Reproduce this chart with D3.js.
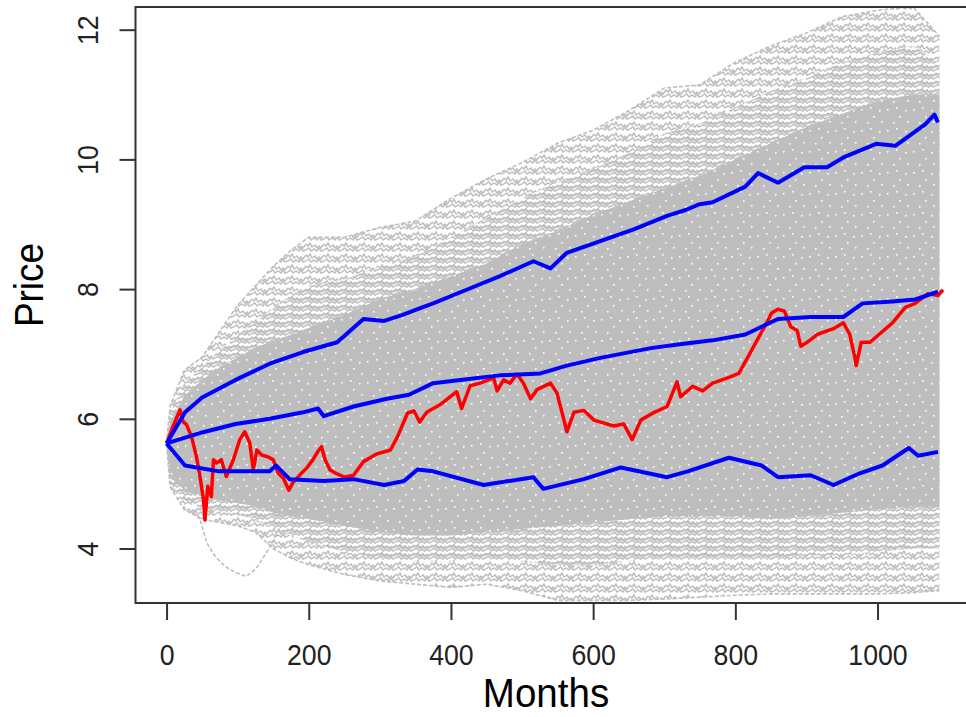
<!DOCTYPE html>
<html>
<head>
<meta charset="utf-8">
<style>
    body { margin: 0; background: #fff; }
    svg { display: block; font-family: "Liberation Sans", Arial, sans-serif; }
    .axis line { stroke: #333; stroke-width: 2; }
    .axis text { fill: #222; font-size: 29px; }
</style>
</head>
<body>
<script src="https://cdn.jsdelivr.net/npm/d3@7"></script>
<script>

    // month grid used for the gray cloud of simulated paths
    var envMonths = [0, 5, 25, 50, 75, 100, 125, 150, 175, 200, 250, 300, 350, 400, 450, 500,
                     550, 600, 650, 700, 750, 800, 850, 900, 950, 1000, 1050, 1087];
    // outermost simulated paths (top / bottom of the gray cloud)
    var outerHigh = [5.62, 6.2, 6.75, 6.95, 7.35, 7.75, 8.05, 8.35, 8.6, 8.8, 8.8, 8.95, 9.05, 9.4, 9.7, 9.95,
                     10.25, 10.45, 10.75, 11.1, 11.15, 11.5, 11.75, 11.95, 12.2, 12.3, 12.35, 11.9];
    var outerLow  = [5.6, 4.95, 4.6, 4.45, 4.4, 4.35, 4.25, 4.0, 3.85, 3.75, 3.6, 3.5, 3.45, 3.4, 3.45, 3.35,
                     3.2, 3.2, 3.2, 3.22, 3.25, 3.28, 3.3, 3.3, 3.3, 3.3, 3.32, 3.35];
    // half-dense zone
    var midHigh   = [5.62, 6.1, 6.55, 6.8, 7.05, 7.3, 7.5, 7.7, 7.9, 8.05, 8.15, 8.35, 8.5, 8.8, 9.1, 9.4,
                     9.65, 9.85, 10.1, 10.4, 10.55, 10.8, 11.05, 11.25, 11.5, 11.65, 11.75, 11.5];
    var midLow    = [5.6, 5.0, 4.75, 4.62, 4.58, 4.52, 4.45, 4.3, 4.2, 4.1, 3.95, 3.85, 3.8, 3.8, 3.85, 3.8,
                     3.75, 3.75, 3.8, 3.85, 3.85, 3.85, 3.85, 3.9, 3.9, 3.95, 4.0, 4.0];
    // dense part of the cloud
    var coreHigh  = [5.62, 5.95, 6.35, 6.6, 6.8, 6.95, 7.1, 7.2, 7.3, 7.4, 7.6, 7.85, 8.0, 8.2, 8.4, 8.7,
                     8.9, 9.15, 9.35, 9.55, 9.75, 10.0, 10.25, 10.5, 10.7, 10.9, 11.0, 11.0];
    var coreLow   = [5.6, 5.1, 4.9, 4.8, 4.75, 4.7, 4.65, 4.55, 4.5, 4.45, 4.35, 4.25, 4.2, 4.2, 4.25, 4.3,
                     4.35, 4.4, 4.45, 4.5, 4.5, 4.5, 4.45, 4.5, 4.55, 4.6, 4.65, 4.65];

    // one stray path that drops below the cloud early on
    var strayMonths = [40, 47, 57, 69, 83, 97, 112, 126, 140, 150, 160];
    var strayValues = [4.6, 4.45, 4.08, 3.87, 3.72, 3.63, 3.57, 3.69, 3.93, 4.11, 4.35];

    // blue bands
    var upperMonths = [0, 26, 50, 97, 145, 192, 240, 277, 306, 331, 353, 375, 422, 469, 516, 540, 563, 610,
                       657, 704, 730, 750, 768, 814, 832, 860, 897, 929, 952, 998, 1025, 1044, 1067, 1080, 1085];
    var upperValues = [5.62, 6.10, 6.33, 6.60, 6.85, 7.03, 7.18, 7.54, 7.51, 7.60, 7.69, 7.78, 7.99, 8.20, 8.43,
                       8.32, 8.56, 8.74, 8.92, 9.13, 9.22, 9.31, 9.34, 9.58, 9.79, 9.64, 9.88, 9.88, 10.03,
                       10.24, 10.21, 10.36, 10.54, 10.69, 10.57];

    var midMonths = [0, 50, 97, 145, 192, 213, 221, 263, 310, 341, 375, 422, 469, 526, 563, 610, 681, 722,
                     768, 814, 860, 906, 952, 979, 1021, 1053, 1085];
    var midValues = [5.62, 5.79, 5.92, 6.00, 6.10, 6.16, 6.04, 6.19, 6.31, 6.37, 6.55, 6.61, 6.67, 6.70, 6.82,
                     6.94, 7.09, 7.15, 7.21, 7.30, 7.54, 7.57, 7.57, 7.78, 7.81, 7.84, 7.96];

    var lowerMonths = [0, 26, 74, 145, 154, 173, 221, 263, 306, 334, 353, 375, 446, 516, 530, 587, 639, 704,
                       733, 791, 837, 860, 906, 938, 975, 1007, 1044, 1057, 1085];
    var lowerValues = [5.62, 5.28, 5.19, 5.19, 5.28, 5.07, 5.04, 5.07, 4.98, 5.04, 5.22, 5.19, 4.98, 5.10,
                       4.92, 5.07, 5.25, 5.10, 5.19, 5.40, 5.28, 5.10, 5.13, 4.98, 5.16, 5.28, 5.55, 5.43, 5.49];

    // actual price path (red)
    var redMonths = [0, 9, 19, 23, 28, 35, 42, 47, 52, 54, 58, 63, 66, 70, 77, 84, 94, 103, 110, 117, 122,
                     127, 134, 141, 150, 157, 164, 172, 178, 188, 197, 206, 213, 218, 223, 230, 240, 250,
                     263, 277, 296, 315, 325, 339, 348, 356, 366, 385, 408, 415, 427, 441, 460, 465, 474,
                     483, 493, 502, 512, 521, 540, 549, 559, 563, 573, 587, 601, 629, 643, 655, 667, 686,
                     704, 718, 723, 740, 754, 768, 791, 805, 823, 841, 851, 860, 869, 878, 887, 892, 901,
                     915, 938, 952, 961, 968, 970, 977, 989, 1002, 1021, 1039, 1053, 1071, 1085, 1092];
    var redValues = [5.62, 5.88, 6.14, 5.96, 5.91, 5.73, 5.42, 5.11, 4.75, 4.44, 4.96, 4.80, 5.37, 5.32,
                     5.37, 5.11, 5.37, 5.68, 5.80, 5.63, 5.21, 5.52, 5.44, 5.42, 5.37, 5.16, 5.09, 4.90,
                     5.02, 5.14, 5.24, 5.37, 5.50, 5.57, 5.37, 5.21, 5.15, 5.10, 5.13, 5.34, 5.46, 5.52,
                     5.73, 6.09, 6.12, 5.95, 6.10, 6.22, 6.42, 6.16, 6.51, 6.55, 6.63, 6.43, 6.60, 6.55,
                     6.69, 6.55, 6.31, 6.45, 6.55, 6.40, 5.98, 5.80, 6.10, 6.13, 5.98, 5.89, 5.92, 5.68,
                     5.98, 6.10, 6.19, 6.57, 6.34, 6.50, 6.43, 6.55, 6.64, 6.70, 7.06, 7.42, 7.63, 7.69,
                     7.66, 7.42, 7.36, 7.12, 7.18, 7.30, 7.39, 7.48, 7.30, 6.95, 6.82, 7.18, 7.18, 7.30,
                     7.48, 7.72, 7.78, 7.93, 7.90, 7.99];

    var xTicks = [0, 200, 400, 600, 800, 1000];
    var yTicks = [4, 6, 8, 10, 12];

    var width = 966, height = 717;
    var plotLeft = 135.5, plotRight = 974, plotTop = 7, plotBottom = 603;

    var svg = d3.select("body").append("svg")
        .attr("width", width)
        .attr("height", height);

    var x = d3.scaleLinear().domain([-43.68, 1135.68]).range([plotLeft, plotRight]);
    var y = d3.scaleLinear().domain([3.16, 12.35]).range([plotBottom, plotTop]);

    var defs = svg.append("defs");

    defs.append("clipPath").attr("id", "plot")
        .append("rect")
        .attr("x", plotLeft).attr("y", plotTop)
        .attr("width", plotRight - plotLeft).attr("height", plotBottom - plotTop);

    // texture for the sparse part of the cloud: thin gray zigzags on white
    function zigzags(id, w, h, lines) {
        var p = defs.append("pattern")
            .attr("id", id)
            .attr("patternUnits", "userSpaceOnUse")
            .attr("width", w).attr("height", h);
        lines.forEach(function(d) {
            p.append("path")
                .attr("d", d)
                .attr("fill", "none")
                .attr("stroke", "#bebebe")
                .attr("stroke-width", 1.5);
        });
    }
    zigzags("fringe", 18, 11, ["M0,2 L2,4 L4,1 L6,5 L9,3 L11,6 L13,4 L15,6 L18,2",
                               "M0,8 L3,6 L5,9 L8,7 L11,9 L13,6 L15,9 L18,8"]);
    zigzags("half", 18, 8, ["M0,1 L2,3 L4,0.5 L6,3.5 L9,2 L11,4 L13,2.5 L15,4 L18,1",
                            "M0,5.5 L3,4.5 L5,7 L8,5.5 L11,7 L13,5 L15,7 L18,5.5",
                            "M0,3 L3,2 L6,4.5 L9,3.5 L12,5 L15,3 L18,3"]);

    // dense part: flat gray with a few white specks
    var core = defs.append("pattern")
        .attr("id", "core")
        .attr("patternUnits", "userSpaceOnUse")
        .attr("width", 26).attr("height", 21);
    core.append("rect").attr("width", 26).attr("height", 21).attr("fill", "#bebebe");
    [[3, 4], [15, 11], [9, 17], [21, 5], [23, 16], [12, 2]].forEach(function(p) {
        core.append("rect")
            .attr("x", p[0]).attr("y", p[1])
            .attr("width", 1.6).attr("height", 1.6)
            .attr("fill", "#fff");
    });

    var view = svg.append("g").attr("clip-path", "url(#plot)");

    function band(lo, hi) {
        return d3.area()
            .x(function(d, i) { return x(envMonths[i]); })
            .y0(function(d, i) { return y(lo[i]); })
            .y1(function(d, i) { return y(hi[i]); })(envMonths);
    }

    function path(ms, vs) {
        return d3.line()
            .x(function(d, i) { return x(ms[i]); })
            .y(function(d, i) { return y(vs[i]); })(ms);
    }

    view.append("path").attr("d", band(outerLow, outerHigh)).attr("fill", "url(#fringe)");
    view.append("path").attr("d", band(midLow, midHigh)).attr("fill", "#fff");
    view.append("path").attr("d", band(midLow, midHigh)).attr("fill", "url(#half)");

    // edges of the cloud are single paths
    [outerHigh, outerLow].forEach(function(vals) {
        view.append("path")
            .attr("d", path(envMonths, vals))
            .attr("fill", "none")
            .attr("stroke", "#bebebe")
            .attr("stroke-width", 1.6)
            .attr("stroke-dasharray", "4,2");
    });

    view.append("path")
        .attr("d", path(strayMonths, strayValues))
        .attr("fill", "none")
        .attr("stroke", "#bebebe")
        .attr("stroke-width", 1.6)
        .attr("stroke-dasharray", "4,2");

    view.append("path").attr("d", band(coreLow, coreHigh)).attr("fill", "url(#core)");

    view.append("path")
        .attr("d", path(redMonths, redValues))
        .attr("fill", "none")
        .attr("stroke", "#ff0000")
        .attr("stroke-width", 3.5)
        .attr("stroke-linejoin", "round");

    [[upperMonths, upperValues], [midMonths, midValues], [lowerMonths, lowerValues]].forEach(function(s) {
        view.append("path")
            .attr("d", path(s[0], s[1]))
            .attr("fill", "none")
            .attr("stroke", "#0000ff")
            .attr("stroke-width", 4)
            .attr("stroke-linejoin", "round");
    });

    // box round the plot region (right side falls off the picture)
    svg.append("rect")
        .attr("x", plotLeft).attr("y", plotTop)
        .attr("width", plotRight - plotLeft).attr("height", plotBottom - plotTop)
        .attr("fill", "none")
        .attr("stroke", "#333")
        .attr("stroke-width", 2);

    var xAxis = svg.append("g")
        .attr("class", "axis")
        .attr("transform", "translate(0," + plotBottom + ")")
        .call(d3.axisBottom(x).tickValues(xTicks).tickSize(17).tickSizeOuter(0).tickFormat(d3.format("d")));
    xAxis.select(".domain").remove();
    xAxis.selectAll(".tick text")
        .attr("dy", null)
        .attr("y", 62)
        .attr("transform", "scale(0.92,1)");

    var yAxis = svg.append("g")
        .attr("class", "axis")
        .attr("transform", "translate(" + plotLeft + ",0)")
        .call(d3.axisLeft(y).tickValues(yTicks).tickSize(16).tickSizeOuter(0));
    yAxis.select(".domain").remove();
    yAxis.selectAll(".tick text")
        .attr("x", null)
        .attr("dy", null)
        .attr("text-anchor", "middle")
        .attr("transform", "translate(-38,0) rotate(-90) scale(0.92,1)");

    svg.append("text")
        .attr("transform", "translate(546,707) scale(0.94,1)")
        .attr("text-anchor", "middle")
        .attr("font-size", 41)
        .attr("fill", "#000")
        .text("Months");

    svg.append("text")
        .attr("transform", "translate(43,285) rotate(-90) scale(0.9,1)")
        .attr("text-anchor", "middle")
        .attr("font-size", 41)
        .attr("fill", "#000")
        .text("Price");

</script>
</body>
</html>
